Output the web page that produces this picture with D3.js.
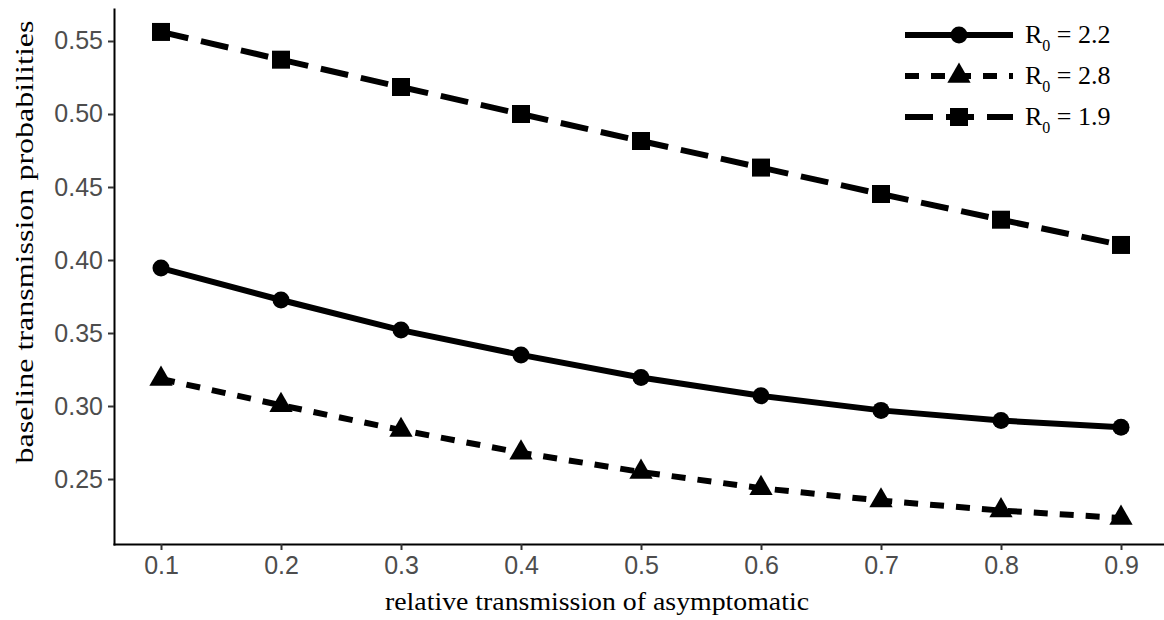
<!DOCTYPE html>
<html>
<head>
<meta charset="utf-8">
<script src="https://cdn.jsdelivr.net/npm/d3@7"></script>
<style>
  body { margin: 0; background: #fff; }
  .tick text { font-family: "Liberation Sans", Arial, sans-serif; fill: #4d4d4d; }
  .ttl { font-family: "Liberation Serif", "DejaVu Serif", serif; fill: #000; }
</style>
</head>
<body>
<svg id="chart" width="1164" height="620"></svg>
<script>
// relative transmission of asymptomatic
var xs = [0.1, 0.2, 0.3, 0.4, 0.5, 0.6, 0.7, 0.8, 0.9]
// baseline transmission probabilities, one array per R0
var r22 = [0.3945, 0.3726, 0.352, 0.335, 0.3195, 0.307, 0.297, 0.290, 0.2855]
var r28 = [0.3185, 0.3005, 0.2835, 0.268, 0.2548, 0.2437, 0.2352, 0.2284, 0.2233]
var r19 = [0.5562, 0.5372, 0.5185, 0.500, 0.4815, 0.4633, 0.4452, 0.4276, 0.4103]
var seriesNames = ["2.2", "2.8", "1.9"]
var xTicks = [0.1, 0.2, 0.3, 0.4, 0.5, 0.6, 0.7, 0.8, 0.9]
var yTicks = [0.25, 0.30, 0.35, 0.40, 0.45, 0.50, 0.55]

var svg = d3.select("#chart")

var x = d3.scaleLinear().domain([0.06, 0.94]).range([113, 1169])
var y = d3.scaleLinear().domain([0.2048, 0.5726]).range([545, 8])

// axes
var xAxis = svg.append("g")
  .attr("transform", "translate(0,544)")
  .call(d3.axisBottom(x).tickValues(xTicks).tickFormat(d3.format(".1f"))
    .tickSizeInner(6).tickSizeOuter(0).tickPadding(6))
var yAxis = svg.append("g")
  .attr("transform", "translate(114,0)")
  .call(d3.axisLeft(y).tickValues(yTicks).tickFormat(d3.format(".2f"))
    .tickSizeInner(6).tickSizeOuter(0).tickPadding(5))

;[xAxis, yAxis].forEach(function (g) {
  g.select(".domain").attr("stroke", "#000").attr("stroke-width", 2)
  g.selectAll(".tick line").attr("stroke", "#333").attr("stroke-width", 2)
  g.selectAll(".tick text").style("font-size", "25px")
})

// series definitions
var series = [
  { vals: r22, dash: null, sym: d3.symbolCircle, size: 227 },
  { vals: r28, dash: "14,12", sym: d3.symbolTriangle, size: 235 },
  { vals: r19, dash: "28,13", sym: d3.symbolSquare, size: 324 }
]

var line = d3.line()
  .x(function (d) { return x(d[0]) })
  .y(function (d) { return y(d[1]) })

series.forEach(function (s) {
  var pts = xs.map(function (v, i) { return [v, s.vals[i]] })
  svg.append("path")
    .datum(pts)
    .attr("d", line)
    .attr("fill", "none")
    .attr("stroke", "#000")
    .attr("stroke-width", 6)
    .attr("stroke-dasharray", s.dash)
  svg.selectAll(null)
    .data(pts)
    .enter()
    .append("path")
    .attr("d", d3.symbol().type(s.sym).size(s.size))
    .attr("transform", function (d) { return "translate(" + x(d[0]) + "," + y(d[1]) + ")" })
    .attr("fill", "#000")
})

// legend
var legend = svg.append("g")
series.forEach(function (s, i) {
  var ly = 35 + i * 41
  legend.append("line")
    .attr("x1", 905).attr("x2", 1013)
    .attr("y1", ly).attr("y2", ly)
    .attr("stroke", "#000")
    .attr("stroke-width", 6)
    .attr("stroke-dasharray", s.dash)
  legend.append("path")
    .attr("d", d3.symbol().type(s.sym).size(s.size))
    .attr("transform", "translate(959," + ly + ")")
    .attr("fill", "#000")
  var t = legend.append("text")
    .attr("class", "ttl")
    .attr("x", 1025)
    .attr("y", ly + 8)
    .style("font-size", "26px")
  t.append("tspan").text("R")
  t.append("tspan").attr("dy", 8).style("font-size", "16px").text("0")
  t.append("tspan").attr("dy", -8).text(" = " + seriesNames[i])
})

// axis titles
svg.append("text")
  .attr("class", "ttl")
  .attr("x", 597)
  .attr("y", 610)
  .attr("text-anchor", "middle")
  .attr("textLength", 424)
  .attr("lengthAdjust", "spacingAndGlyphs")
  .style("font-size", "25px")
  .text("relative transmission of asymptomatic")

svg.append("text")
  .attr("class", "ttl")
  .attr("transform", "translate(33,242) rotate(-90)")
  .attr("text-anchor", "middle")
  .attr("textLength", 443)
  .attr("lengthAdjust", "spacingAndGlyphs")
  .style("font-size", "25px")
  .text("baseline transmission probabilities")
</script>
</body>
</html>
